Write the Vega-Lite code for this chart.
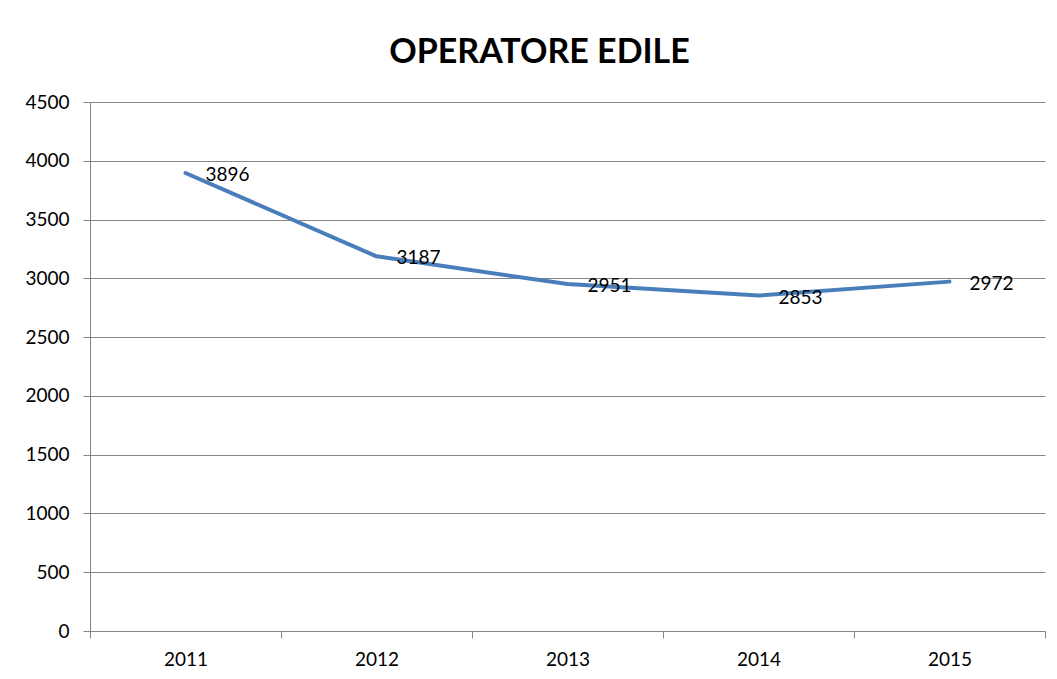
{
  "$schema": "https://vega.github.io/schema/vega-lite/v6.json",
  "width": 955,
  "height": 529,
  "autosize": {"type": "none"},
  "padding": {"left": 90, "top": 102, "right": 12, "bottom": 48},
  "background": "white",
  "title": {
    "text": "OPERATORE EDILE",
    "font": "Lato",
    "fontSize": 34,
    "fontWeight": "bold",
    "color": "black",
    "anchor": "middle",
    "dx": -28,
    "offset": 23
  },
  "config": {
    "view": {"stroke": null},
    "font": "Lato"
  },
  "data": {
    "values": [
      {"anno": "2011", "valore": 3896},
      {"anno": "2012", "valore": 3187},
      {"anno": "2013", "valore": 2951},
      {"anno": "2014", "valore": 2853},
      {"anno": "2015", "valore": 2972}
    ]
  },
  "encoding": {
    "x": {
      "field": "anno",
      "type": "ordinal",
      "scale": {"type": "band", "paddingInner": 0, "paddingOuter": 0},
      "axis": {
        "title": null,
        "labelAngle": 0,
        "tickBand": "extent",
        "tickSize": 7,
        "tickColor": "#868686",
        "domainColor": "#868686",
        "labelFontSize": 19,
        "labelColor": "black",
        "labelPadding": 12,
        "grid": false
      }
    },
    "y": {
      "field": "valore",
      "type": "quantitative",
      "scale": {"domain": [0, 4500], "nice": false, "zero": true},
      "axis": {
        "title": null,
        "format": "d",
        "values": [0, 500, 1000, 1500, 2000, 2500, 3000, 3500, 4000, 4500],
        "tickSize": 7,
        "tickColor": "#868686",
        "domainColor": "#868686",
        "gridColor": "#868686",
        "gridOpacity": 1,
        "labelFontSize": 19,
        "labelColor": "black",
        "labelPadding": 14
      }
    }
  },
  "layer": [
    {
      "mark": {"type": "line", "color": "#4A7EBB", "strokeWidth": 4, "strokeCap": "round", "strokeJoin": "round"}
    },
    {
      "mark": {"type": "text", "align": "left", "baseline": "middle", "dx": 20, "dy": 2, "fontSize": 19, "color": "black", "font": "Lato"},
      "encoding": {"text": {"field": "valore", "type": "quantitative", "format": "d"}}
    }
  ]
}
